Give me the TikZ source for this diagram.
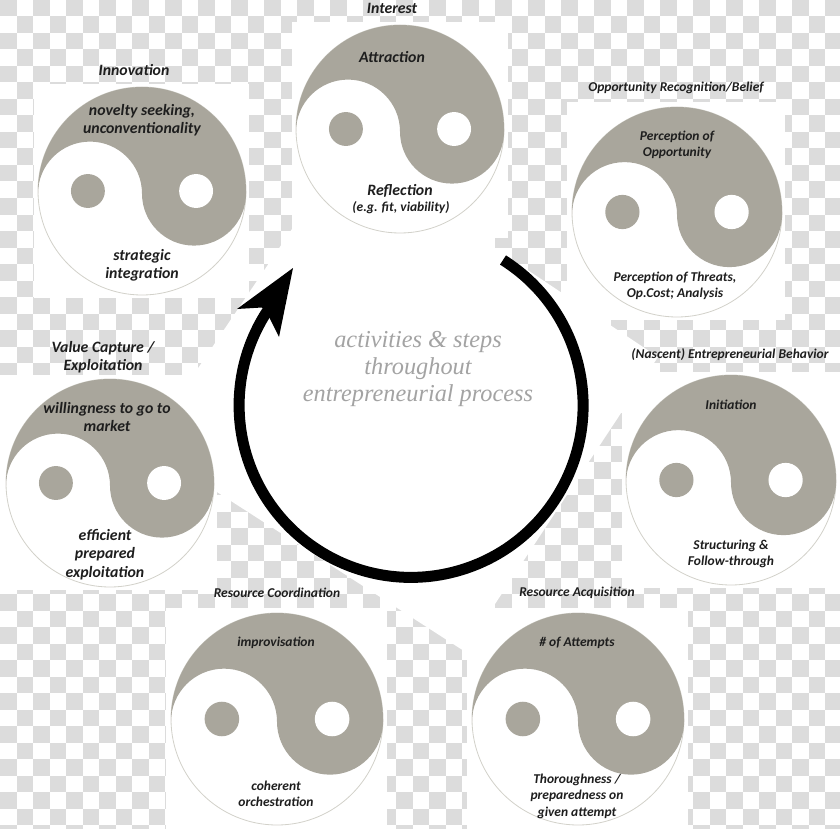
\documentclass[tikz,border=0pt]{standalone}
\usepackage{fontspec}
\setmainfont{Carlito}[BoldFont={Carlito Bold}, BoldItalicFont={Carlito Bold Italic}]
\newfontfamily\centrefont{Liberation Serif}
\definecolor{taupe}{HTML}{A9A69C}
\definecolor{rim}{HTML}{D2D1CA}
\definecolor{check}{HTML}{DCDCDC}
\definecolor{ink}{HTML}{1E1E1E}
\definecolor{soft}{HTML}{A3A3A3}

\begin{document}
\begin{tikzpicture}[x=1pt, y=1pt, yscale=-1,
	patch/.style={fill=white},
	big/.style={text=ink, align=center, inner sep=0pt, font=\fontsize{15.8}{18.3}\selectfont\bfseries\itshape},
	small/.style={text=ink, align=center, inner sep=0pt, font=\fontsize{13.5}{16.5}\selectfont\bfseries\itshape},
	pics/yinyang/.style={code={
		\fill[white, draw=rim, line width=0.8pt] (0,0) circle[radius=#1];
		\fill[taupe] (-#1,0) arc[start angle=180, end angle=0, radius=#1]
			-- ++(0,-#1*0.025)
			arc[start angle=0, end angle=-180, radius=#1/2]
			arc[start angle=0, end angle=180, radius=#1/2] -- cycle;
		\fill[taupe] (-#1*0.52,0) circle[radius=#1*0.163];
		\fill[white] (#1*0.52,0) circle[radius=#1*0.163];
	}}]
	\useasboundingbox (0,0) rectangle (840,829);
	\clip (0,0) rectangle (840,829);

	% backdrop
	\foreach \i in {0,...,50}
		\foreach \j in {0,...,50} {
			\pgfmathtruncatemacro{\k}{\i+\j}
			\ifodd\k\else
				\fill[check] (\i*16.5,\j*16.5) rectangle ++(16.5,16.5);
			\fi
		}

	\fill[patch] (346,149) -- (658,357) -- (464,651) -- (145.5,446) -- cycle;
	\fill[patch] (292,22) rectangle (508,238);
	\fill[patch] (34,84) rectangle (249,298);
	\fill[patch] (567,102) rectangle (785,320);
	\fill[patch] (0,375) rectangle (217,590);
	\fill[patch] (622,372) rectangle (840,588);
	\fill[patch] (166,608) rectangle (387,829);
	\fill[patch] (467,608) rectangle (688,829);

	\pic at (400,129) {yinyang=104};
	\pic at (142,191) {yinyang=104};
	\pic at (677,212) {yinyang=105};
	\pic at (731,480) {yinyang=105};
	\pic at (110,483) {yinyang=104};
	\pic at (277,719) {yinyang=106};
	\pic at (578,719) {yinyang=106};

	% cycle arrow
	\draw[line width=11pt] (503,260) arc[start angle=-57.7, end angle=213.2, radius=172];
	\fill (293,268) -- (237,309) -- (262,307.5) -- (268,315) -- (279,337) -- cycle;

	\node[text=soft, align=center, inner sep=0pt, font=\fontsize{24.3}{27.3}\selectfont\centrefont\itshape] (process) at (418,369)
		{activities \& steps\\throughout\\entrepreneurial process};

	\node[big] (interest_title) at (392,8) {Interest};
	\node[big] (interest_top) at (392,57) {Attraction};
	\node[big] (interest_low) at (400,191) {Reflection};
	\node[small] (interest_note) at (401,208) {(e.g. fit, viability)};

	\node[big] (innovation_title) at (134,70) {Innovation};
	\node[big] (innovation_top) at (142,120) {novelty seeking,\\unconventionality};
	\node[big] (innovation_low) at (142,265) {strategic\\integration};

	\node[small] (belief_title) at (676,88) {Opportunity Recognition/Belief};
	\node[small] (belief_top) at (677,145) {Perception of\\Opportunity};
	\node[small] (belief_low) at (675,286) {Perception of Threats,\\Op.Cost; Analysis};

	\node[small] (nascent_title) at (730,355) {(Nascent) Entrepreneurial Behavior};
	\node[small] (nascent_top) at (731,405) {Initiation};
	\node[small] (nascent_low) at (731,554) {Structuring \&\\Follow-through};

	\node[big] (capture_title) at (103,357.5) {Value Capture /\\Exploitation};
	\node[big] (capture_top) at (107,417) {willingness to go to\\market};
	\node[big] (capture_low) at (105,554.5) {efficient\\prepared\\exploitation};

	\node[small] (coord_title) at (277,593) {Resource Coordination};
	\node[small] (coord_top) at (276,643) {improvisation};
	\node[small] (coord_low) at (276,794) {coherent\\orchestration};

	\node[small] (acquire_title) at (577,593) {Resource Acquisition};
	\node[small] (acquire_top) at (577,643) {\# of Attempts};
	\node[small] (acquire_low) at (577,796) {Thoroughness /\\preparedness on\\given attempt};
\end{tikzpicture}
\end{document}
